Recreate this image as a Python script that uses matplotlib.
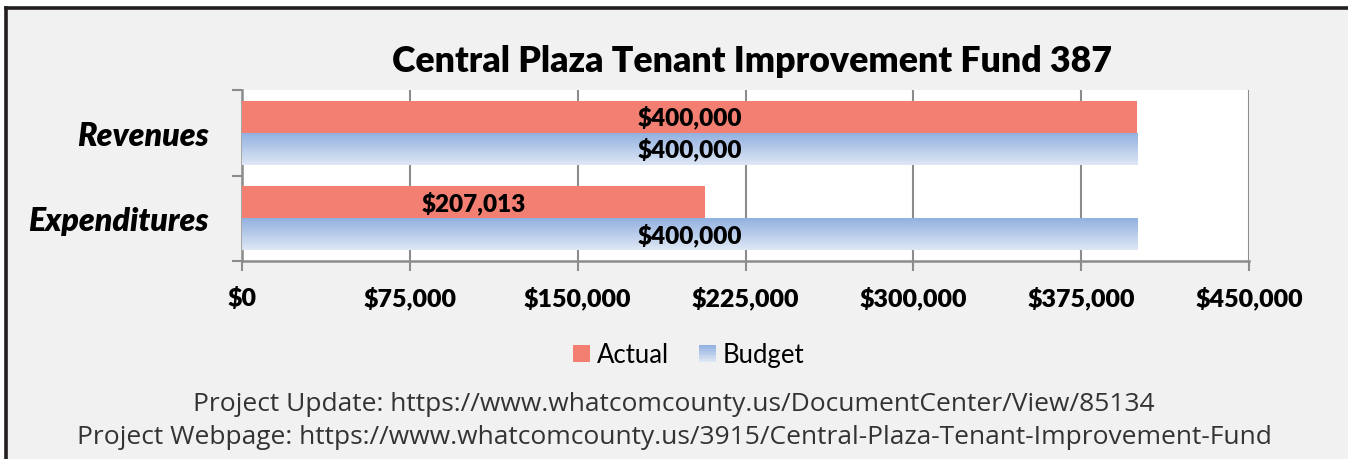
import numpy as np
import matplotlib
matplotlib.use("Agg")
import matplotlib.pyplot as plt
from matplotlib.patches import Rectangle
from matplotlib.lines import Line2D
from matplotlib.legend_handler import HandlerBase
from matplotlib.colors import LinearSegmentedColormap

categories = ["Revenues", "Expenditures"]
actual = [400000, 207013]
budget = [400000, 400000]
series_names = ["Actual", "Budget"]
x_ticks = [0, 75000, 150000, 225000, 300000, 375000, 450000]

title = "Central Plaza Tenant Improvement Fund 387"
footer = [
    "Project Update: https://www.whatcomcounty.us/DocumentCenter/View/85134",
    "Project Webpage: https://www.whatcomcounty.us/3915/Central-Plaza-Tenant-Improvement-Fund",
]

RED = "#F27F72"
BLUE_TOP = "#93B1E0"
BLUE_BOT = "#DEE7F5"
GRID = "#8C8C8C"
BG = "#F1F1F1"

plt.rcParams["font.family"] = ["Lato", "DejaVu Sans"]

W, H = 1348, 460
fig = plt.figure(figsize=(W / 100, H / 100), dpi=100, facecolor="white")

# panel background with dark frame on left/top
fig.patches.append(Rectangle((6 / W, -0.1), 1.2, (H - 9) / H + 0.1,
                             transform=fig.transFigure, facecolor=BG,
                             edgecolor="none", zorder=-10))
fig.lines.append(Line2D([6 / W, 6 / W], [0, 1 - 9 / H], transform=fig.transFigure,
                        color="#231F20", lw=2.6))
fig.lines.append(Line2D([6 / W, 1], [1 - 9 / H, 1 - 9 / H], transform=fig.transFigure,
                        color="#231F20", lw=2.6))

ax = fig.add_axes([242 / W, 1 - 262 / H, (1249 - 242) / W, (262 - 91) / H])
ax.set_facecolor("white")

y = np.arange(len(categories))
h = 0.374
bars_a = ax.barh(y - h / 2, actual, height=h, color=RED, zorder=3)
bars_b = ax.barh(y + h / 2, budget, height=h, color=BLUE_BOT, zorder=3)

# vertical gradient on the budget bars
cmap = LinearSegmentedColormap.from_list("budget", [BLUE_TOP, BLUE_BOT])
grad = np.linspace(0, 1, 64).reshape(-1, 1)
for p in bars_b:
    x0, y0 = p.get_x(), p.get_y()
    ax.imshow(grad, cmap=cmap, aspect="auto", origin="upper",
              extent=(x0, x0 + p.get_width(), y0 + p.get_height(), y0), zorder=3.5)

for bars, vals in [(bars_a, actual), (bars_b, budget)]:
    labels = ax.bar_label(bars, labels=[f"${v:,.0f}" for v in vals], label_type="center",
                          fontsize=17.5, fontweight="heavy", color="black")
    for t in labels:
        t.set_zorder(6)

ax.set_xlim(0, 450000)
ax.set_ylim(len(categories) - 0.5, -0.5)
ax.set_xticks(x_ticks)
ax.set_xticklabels([f"${v:,.0f}" for v in x_ticks], fontsize=18, fontweight="heavy")
ax.xaxis.grid(True, color=GRID, lw=1.5, zorder=1)
ax.set_axisbelow(True)

ax.set_yticks(np.arange(len(categories) + 1) - 0.5)
ax.set_yticklabels([])
ax.set_yticks(y, minor=True)
ax.set_yticklabels(categories, minor=True, fontsize=23, fontweight="heavy", style="italic")
ax.tick_params(axis="y", which="minor", length=0, pad=24)
ax.tick_params(axis="y", which="major", length=7, width=1.5, color=GRID, direction="out")
ax.tick_params(axis="x", length=7, width=1.5, color=GRID, direction="out", pad=11)

for s in ["top", "right"]:
    ax.spines[s].set_visible(False)
for s in ["left", "bottom"]:
    ax.spines[s].set_color(GRID)
    ax.spines[s].set_linewidth(1.8)

fig.text(752 / W, 1 - 61 / H, title, ha="center", va="center",
         fontsize=25.7, fontweight="heavy")


class GradientHandler(HandlerBase):
    def create_artists(self, legend, orig_handle, xdescent, ydescent,
                       width, height, fontsize, trans):
        n = 12
        size = height * 0.95
        x0 = -xdescent + (width - size) / 2
        y0 = -ydescent + (height - size) / 2
        arts = []
        for i in range(n):
            c = cmap(1 - i / (n - 1))
            arts.append(Rectangle((x0, y0 + i * size / n), size, size / n + 0.3,
                                  facecolor=c, edgecolor="none", transform=trans))
        return arts


class SquareHandler(HandlerBase):
    def create_artists(self, legend, orig_handle, xdescent, ydescent,
                       width, height, fontsize, trans):
        size = height * 0.95
        x0 = -xdescent + (width - size) / 2
        y0 = -ydescent + (height - size) / 2
        return [Rectangle((x0, y0), size, size, facecolor=RED,
                          edgecolor="none", transform=trans)]


h_a = Rectangle((0, 0), 1, 1, color=RED)
h_b = Rectangle((0, 0), 1, 1, color=BLUE_TOP)
fig.legend([h_a, h_b], series_names, loc="center", bbox_to_anchor=(688 / W, 1 - 356 / H),
           ncol=2, frameon=False, fontsize=18.5, handlelength=0.8, handletextpad=0.2,
           columnspacing=1.1,
           handler_map={h_a: SquareHandler(), h_b: GradientHandler()})

for i, line in enumerate(footer):
    fig.text(674 / W, 1 - (405 + 33 * i) / H, line, ha="center", va="center",
             fontsize=19, color="#333333", family=["Open Sans", "DejaVu Sans"])

fig.savefig("out.png", dpi=100, facecolor=fig.get_facecolor())
